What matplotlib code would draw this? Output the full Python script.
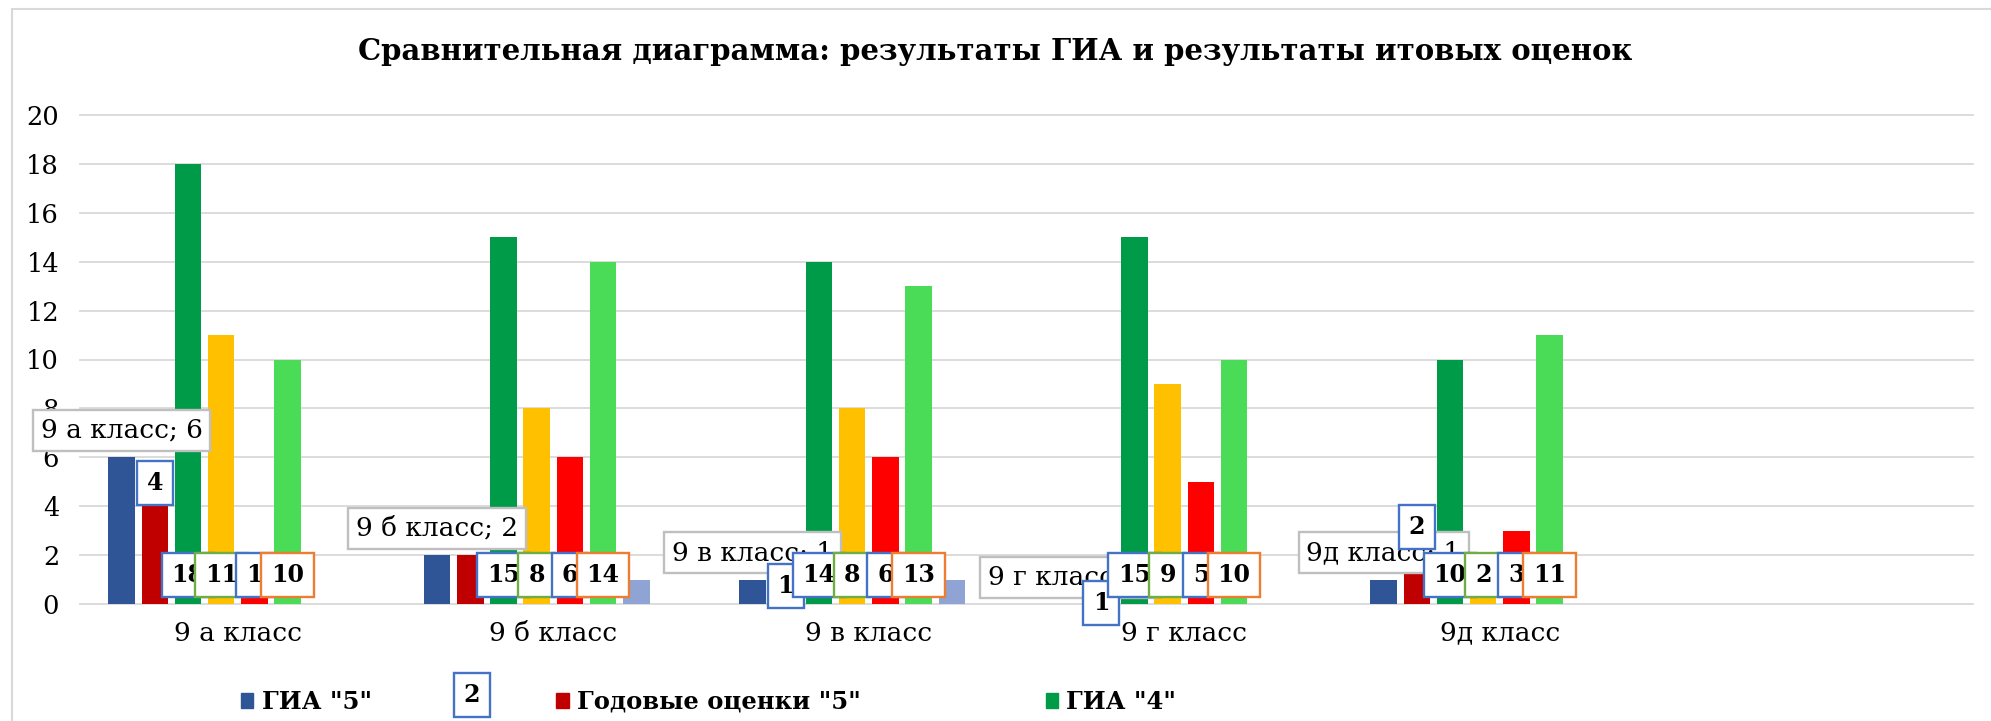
import matplotlib
matplotlib.use('Agg')
import matplotlib.pyplot as plt
from matplotlib.patches import Patch, Rectangle
import numpy as np

# Данные
classes = ['9 а класс', '9 б класс', '9 в класс', '9 г класс', '9д класс', '']
gia_5 = [6, 2, 1, 0, 1]
god_5 = [4, 2, 1, 1, 1.3]
god_5_text = ['4', '2', '1', '1', '2']
gia_4 = [18, 15, 14, 15, 10]
god_4 = [11, 8, 8, 9, 2]
gia_3 = [1, 6, 6, 5, 3]
god_3 = [10, 14, 13, 10, 11]
gia_2 = [0, 1, 1, 0, 0]
god_2 = [0, 0, 0, 0, 0]

legend_names = ['ГИА "5"', 'Годовые оценки "5"', 'ГИА "4"']
title = 'Сравнительная диаграмма: результаты ГИА и результаты итовых оценок'

series = [gia_5, god_5, gia_4, god_4, gia_3, god_3, gia_2, god_2]
colors = ['#2F5597', '#C00000', '#009B48', '#FFC000', '#FF0000', '#4ADC56', '#8FA4D4', '#A9D18E']

W, H = 1991, 721
fig = plt.figure(figsize=(W / 100, H / 100), dpi=100)
fig.patch.set_facecolor('white')
ax = fig.add_axes([80 / W, 117 / H, 1893 / W, 489 / H])

# рамка диаграммы
fig.patches.append(Rectangle((12 / W, -0.1), 1.2, 1 - 9 / H + 0.1, transform=fig.transFigure,
                             fill=False, edgecolor='#D9D9D9', linewidth=1.5))

slot = 33.2 / 315.5
bw = 26.5 / 315.5
n = len(gia_5)
x = np.arange(n)
for i, (vals, c) in enumerate(zip(series, colors)):
    ax.bar(x + (i - 3.5) * slot, vals, width=bw, color=c, zorder=2)

ax.set_xlim(-0.5, 5.5)
ax.set_ylim(0, 20)
ax.set_yticks(range(0, 21, 2))
ax.set_xticks(range(len(classes)))
ax.set_xticklabels(classes)
ax.grid(axis='y', color='#D9D9D9', linewidth=1.3, zorder=0)
ax.set_axisbelow(True)
for s in ax.spines.values():
    s.set_visible(False)
ax.tick_params(axis='both', length=0)
ax.tick_params(axis='y', pad=15, labelsize=18.5)
ax.tick_params(axis='x', pad=12, labelsize=19)
for lab in ax.get_xticklabels() + ax.get_yticklabels():
    lab.set_fontfamily('DejaVu Serif')
for gl in ax.get_ygridlines():
    gl.set_clip_on(False)

def box(ec, pad=0.42):
    return dict(boxstyle=f'square,pad={pad}', facecolor='white', edgecolor=ec, linewidth=1.7)

# подписи ГИА "5": категория; значение
for k in range(n):
    ax.text(k - 3.5 * slot, gia_5[k] + 1.1, f'{classes[k]}; {gia_5[k]}', ha='center', va='center',
            fontsize=19, family='DejaVu Serif', bbox=box('#BFBFBF', 0.3), zorder=5)

# подписи годовых "5" (сдвинуты вручную)
god_5_dy = [0.95, None, -0.26, -0.96, 1.85]
for k in range(n):
    if god_5_dy[k] is None:
        continue
    ax.text(k - 2.5 * slot, god_5[k] + god_5_dy[k], god_5_text[k], ha='center', va='center',
            fontsize=17, fontweight='bold', family='DejaVu Serif', bbox=box('#4472C4'), zorder=6)
# одна подпись уехала в легенду
fig.text(472 / W, 1 - 695 / H, god_5_text[1], ha='center', va='center', fontsize=17,
         fontweight='bold', family='DejaVu Serif', bbox=box('#4472C4'))

# подписи внизу столбцов
label_sets = [(gia_4, 2, '#4472C4'), (god_4, 3, '#70AD47'), (gia_3, 4, '#4472C4'), (god_3, 5, '#ED7D31')]
for z, (vals, pos, ec) in enumerate(label_sets):
    for k in range(n):
        ax.text(k + (pos - 3.5) * slot, 1.2, str(vals[k]), ha='center', va='center',
                fontsize=17, fontweight='bold', family='DejaVu Serif', bbox=box(ec), zorder=7 + z)

fig.text(0.5, 1 - 51 / H, title, ha='center', va='center', fontsize=21,
         fontweight='bold', family='DejaVu Serif')

handles = [Patch(color=colors[i]) for i in range(3)]
fig.legend(handles, legend_names, loc='center left', bbox_to_anchor=(241 / W, 1 - 702 / H),
           ncol=3, frameon=False, borderpad=0, borderaxespad=0, handlelength=0.5, handleheight=0.6,
           handletextpad=0.35, columnspacing=7.6,
           prop={'family': 'DejaVu Serif', 'weight': 'bold', 'size': 17.5})

plt.savefig('out.png', dpi=100)
